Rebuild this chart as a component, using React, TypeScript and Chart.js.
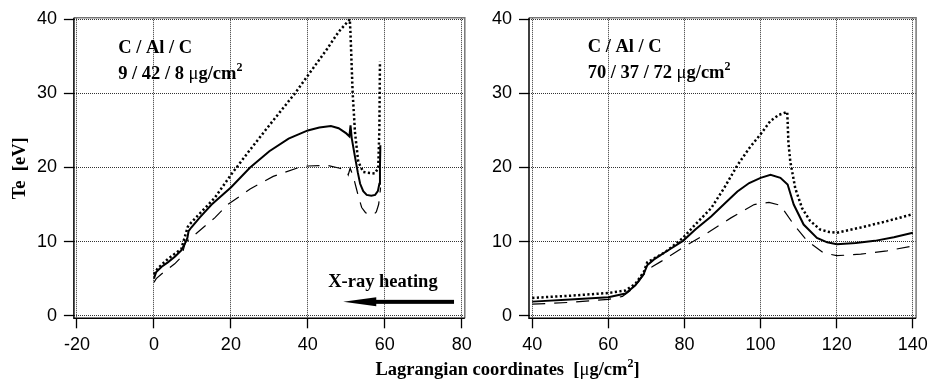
import React, { useEffect, useRef } from "react";
import { Chart, registerables } from "chart.js";

Chart.register(...registerables);

// ---------- tick labels ----------
const leftTicksX = [-20, 0, 20, 40, 60, 80];
const rightTicksX = [40, 60, 80, 100, 120, 140];
const ticksY = [0, 10, 20, 30, 40];

// ---------- left panel: C / Al / C 9 / 42 / 8 ----------
const leftSolidX = [0, 0.6, 2, 3.6, 5.5, 7.1, 8.2, 8.7, 9.0, 9.7, 12, 15, 20, 25, 30, 35, 40, 43, 46, 48, 50, 50.8, 51.1, 51.4, 52.2, 53.0, 53.6, 54.4, 55.3, 56.5, 57.5, 58.2, 58.6, 58.75, 58.85];
const leftSolidY = [5.0, 5.9, 6.6, 7.2, 8.0, 8.8, 9.9, 10.5, 11.4, 11.9, 13.3, 15.0, 17.3, 20.0, 22.2, 23.9, 25.0, 25.4, 25.6, 25.3, 24.6, 24.2, 25.7, 24.0, 21.6, 19.3, 17.8, 16.8, 16.3, 16.2, 16.3, 16.8, 17.8, 20.0, 23.0];

const leftDotX = [0, 1, 3.6, 7.1, 8.8, 9.4, 11.4, 15.8, 20, 25, 30, 36.65, 40, 45, 48, 50.9, 51.1, 51.65, 52.25, 53.1, 54.4, 55.5, 57.4, 58.3, 58.6, 58.75];
const leftDotY = [5.6, 6.4, 7.65, 9.0, 12.0, 12.4, 13.5, 15.9, 19.0, 22.4, 25.7, 30.0, 32.4, 36.0, 38.3, 40.0, 38.0, 30.1, 24.8, 20.8, 19.4, 19.3, 19.2, 19.9, 25.2, 34.3];

const leftDashX = [0, 0.6, 1.9, 5.4, 7.1, 8.2, 11, 15.8, 19.2, 25, 31, 37.1, 40, 45, 48.3, 50.0, 50.5, 51.0, 51.3, 52.0, 52.6, 53.2, 54.0, 55.0, 56.0, 57.0, 57.8, 58.4, 58.7, 58.9];
const leftDashY = [4.5, 5.0, 5.6, 7.0, 7.9, 9.9, 11.1, 13.2, 15.0, 17.1, 18.8, 19.9, 20.2, 20.3, 19.9, 19.6, 19.0, 19.9, 19.5, 18.4, 17.2, 16.0, 14.6, 13.9, 13.7, 13.6, 14.0, 15.0, 16.2, 17.3];

// ---------- right panel: C / Al / C 70 / 37 / 72 ----------
const rightSolidX = [40, 50, 60, 64.5, 67.1, 69.3, 70.2, 72, 75, 79.6, 83, 87, 90.5, 93.9, 97, 100, 102.6, 105.2, 107.1, 108.7, 111.3, 114.8, 117.5, 120, 125, 130, 135, 140];
const rightSolidY = [1.9, 2.2, 2.5, 3.0, 4.1, 5.65, 6.8, 7.6, 8.6, 10.1, 11.7, 13.4, 15.1, 16.76, 17.9, 18.6, 19.0, 18.6, 17.7, 15.0, 12.3, 10.5, 9.9, 9.65, 9.8, 10.1, 10.6, 11.2];

const rightDotX = [40, 50, 60, 64.5, 67.1, 69.3, 70.2, 75, 79.6, 83, 87, 90.5, 93.9, 97, 100, 102.6, 104.8, 107.0, 107.3, 107.8, 109.1, 110.9, 113.0, 115.6, 118, 120, 126.3, 133.2, 140];
const rightDotY = [2.4, 2.7, 3.07, 3.4, 4.3, 5.9, 7.2, 8.6, 10.5, 12.4, 14.5, 17.3, 20.3, 22.6, 24.5, 26.3, 27.1, 27.5, 23.4, 20.8, 17.2, 14.5, 12.8, 11.65, 11.3, 11.2, 11.9, 12.76, 13.7];

const rightDashX = [40, 50, 60, 63.7, 66, 68, 70, 71.5, 74.1, 79.6, 86.1, 92.2, 98.3, 102.2, 105.2, 108.7, 112.2, 116.5, 120, 126.3, 133.2, 140];
const rightDashY = [1.56, 1.8, 2.2, 2.6, 3.5, 4.6, 6.0, 6.6, 7.4, 9.2, 11.2, 13.2, 15.0, 15.3, 14.9, 12.3, 10.1, 8.5, 8.1, 8.3, 8.76, 9.4];

// ---------- fonts ----------
const SERIF = '"Liberation Serif", "Times New Roman", serif';
const SANS = '"Liberation Sans", Arial, Helvetica, sans-serif';
const BOLD = `bold 18.5px ${SERIF}`;
const REG = `18.5px ${SERIF}`;
const SUP = `bold 12px ${SERIF}`;

type Run = { text: string; font: string; dy?: number };

function pts(xs: number[], ys: number[]) {
  return xs.map((x, i) => ({ x, y: ys[i] }));
}

function makeDatasets(sx: number[], sy: number[], dx: number[], dy: number[], ax: number[], ay: number[]) {
  return [
    { label: "solid", data: pts(sx, sy), borderColor: "#000", borderWidth: 2, pointRadius: 0, tension: 0, fill: false },
    { label: "dotted", data: pts(dx, dy), borderColor: "#000", borderWidth: 2.5, borderDash: [2.2, 2.4], pointRadius: 0, tension: 0, fill: false },
    { label: "dashed", data: pts(ax, ay), borderColor: "#000", borderWidth: 1.2, borderDash: [13, 9], pointRadius: 0, tension: 0, fill: false },
  ];
}

function runsWidth(ctx: CanvasRenderingContext2D, runs: Run[]) {
  let w = 0;
  for (const r of runs) {
    ctx.font = r.font;
    w += ctx.measureText(r.text).width;
  }
  return w;
}

function drawRuns(ctx: CanvasRenderingContext2D, x: number, y: number, runs: Run[]) {
  let cx = x;
  ctx.textAlign = "left";
  ctx.textBaseline = "alphabetic";
  for (const r of runs) {
    ctx.font = r.font;
    ctx.fillText(r.text, cx, y + (r.dy || 0));
    cx += ctx.measureText(r.text).width;
  }
}

const framePlugin = {
  id: "frame",
  afterDatasetsDraw(chart: any) {
    const { ctx, chartArea: a } = chart;
    ctx.save();
    ctx.lineWidth = 1.5;
    ctx.strokeStyle = "#777";
    ctx.beginPath();
    ctx.moveTo(a.left, a.top);
    ctx.lineTo(a.right, a.top);
    ctx.lineTo(a.right, a.bottom);
    ctx.stroke();
    ctx.strokeStyle = "#000";
    ctx.beginPath();
    ctx.moveTo(a.left, a.top);
    ctx.lineTo(a.left, a.bottom);
    ctx.lineTo(a.right, a.bottom);
    ctx.stroke();
    ctx.restore();
  },
};

function annotationPlugin(opts: {
  titleX: number;
  titleY1: number;
  titleY2: number;
  line2: string;
  heating?: { textX: number; textY: number; tailX: number; tipX: number; arrowY: number };
  axisTitles?: boolean;
}) {
  return {
    id: "annot",
    afterDraw(chart: any) {
      const { ctx } = chart;
      const xs = chart.scales.x;
      const ys = chart.scales.y;
      ctx.save();
      ctx.fillStyle = "#000";
      const tx = xs.getPixelForValue(opts.titleX);
      drawRuns(ctx, tx, ys.getPixelForValue(opts.titleY1), [{ text: "C / Al / C", font: BOLD }]);
      drawRuns(ctx, tx, ys.getPixelForValue(opts.titleY2), [
        { text: opts.line2 + " ", font: BOLD },
        { text: "\u03BC", font: REG },
        { text: "g/cm", font: BOLD },
        { text: "2", font: SUP, dy: -8 },
      ]);
      if (opts.heating) {
        const h = opts.heating;
        drawRuns(ctx, xs.getPixelForValue(h.textX), ys.getPixelForValue(h.textY), [{ text: "X-ray heating", font: BOLD }]);
        const ay = ys.getPixelForValue(h.arrowY);
        const tail = xs.getPixelForValue(h.tailX);
        const tip = xs.getPixelForValue(h.tipX);
        const headLen = 33;
        ctx.fillRect(tip + headLen - 1, ay - 2, tail - (tip + headLen - 1), 4);
        ctx.beginPath();
        ctx.moveTo(tip, ay);
        ctx.lineTo(tip + headLen, ay - 4.5);
        ctx.lineTo(tip + headLen, ay + 4.5);
        ctx.closePath();
        ctx.fill();
      }
      if (opts.axisTitles) {
        // y axis title
        ctx.save();
        ctx.translate(25, 168.3);
        ctx.rotate(-Math.PI / 2);
        ctx.font = BOLD;
        ctx.textAlign = "center";
        ctx.textBaseline = "alphabetic";
        ctx.fillText("Te  [eV]", 0, 0);
        ctx.restore();
        // x axis title, shared by both panels
        const runs: Run[] = [
          { text: "Lagrangian coordinates  [", font: BOLD },
          { text: "\u03BC", font: REG },
          { text: "g/cm", font: BOLD },
          { text: "2", font: SUP, dy: -8 },
          { text: "]", font: BOLD },
        ];
        const w = runsWidth(ctx, runs);
        drawRuns(ctx, 507.5 - w / 2, 375, runs);
      }
      ctx.restore();
    },
  };
}

function makeConfig(p: {
  datasets: any[];
  xMin: number;
  xMax: number;
  xTicks: number[];
  yWidth: number;
  padRight: number;
  plugin: any;
}) {
  const tickFont = { family: SANS, size: 18 };
  return {
    type: "line" as const,
    data: { datasets: p.datasets },
    options: {
      responsive: false,
      animation: false as const,
      events: [],
      layout: { padding: { left: 0, top: 14.2, right: p.padRight, bottom: 0 } },
      plugins: { legend: { display: false }, tooltip: { enabled: false }, title: { display: false } },
      scales: {
        x: {
          type: "linear" as const,
          min: p.xMin,
          max: p.xMax,
          afterBuildTicks: (s: any) => {
            s.ticks = p.xTicks.map((v) => ({ value: v }));
          },
          afterFit: (s: any) => {
            s.height = 63.7;
          },
          grid: { color: "#333", lineWidth: 1, drawTicks: true, tickLength: 10, tickColor: "#000", tickWidth: 1.3 },
          border: { display: false, dash: [1, 1] },
          ticks: { color: "#000", font: tickFont, padding: 6, maxRotation: 0, autoSkip: false },
        },
        y: {
          type: "linear" as const,
          min: -0.35,
          max: 40.2,
          afterBuildTicks: (s: any) => {
            s.ticks = ticksY.map((v) => ({ value: v }));
          },
          afterFit: (s: any) => {
            s.width = p.yWidth;
          },
          grid: { color: "#333", lineWidth: 1, drawTicks: true, tickLength: 10, tickColor: "#000", tickWidth: 1.3 },
          border: { display: false, dash: [1, 1] },
          ticks: { color: "#000", font: tickFont, padding: 7 },
        },
      },
    },
    plugins: [framePlugin, p.plugin],
  };
}

export default function App() {
  const leftRef = useRef<HTMLCanvasElement>(null);
  const rightRef = useRef<HTMLCanvasElement>(null);

  useEffect(() => {
    const left = new Chart(
      leftRef.current as HTMLCanvasElement,
      makeConfig({
        datasets: makeDatasets(leftSolidX, leftSolidY, leftDotX, leftDotY, leftDashX, leftDashY),
        xMin: -20.8,
        xMax: 80.8,
        xTicks: leftTicksX,
        yWidth: 73.9,
        padRight: 934 - 464.8,
        plugin: annotationPlugin({
          titleX: -9.3,
          titleY1: 35.4,
          titleY2: 31.96,
          line2: "9 / 42 / 8",
          heating: { textX: 45.3, textY: 3.87, tailX: 78, tipX: 49.2, arrowY: 1.87 },
          axisTitles: true,
        }),
      }) as any
    );
    const right = new Chart(
      rightRef.current as HTMLCanvasElement,
      makeConfig({
        datasets: makeDatasets(rightSolidX, rightSolidY, rightDotX, rightDotY, rightDashX, rightDashY),
        xMin: 39.15,
        xMax: 140.85,
        xTicks: rightTicksX,
        yWidth: 62.0,
        padRight: 14.1,
        plugin: annotationPlugin({
          titleX: 54.57,
          titleY1: 35.56,
          titleY2: 32.1,
          line2: "70 / 37 / 72",
        }),
      }) as any
    );
    return () => {
      left.destroy();
      right.destroy();
    };
  }, []);

  return (
    <div style={{ position: "absolute", left: 0, top: 0, width: 934, height: 382, background: "#fff", overflow: "hidden" }}>
      <canvas ref={leftRef} width={934} height={382} style={{ position: "absolute", left: 0, top: 0, width: 934, height: 382 }} />
      <canvas ref={rightRef} width={467} height={382} style={{ position: "absolute", left: 467, top: 0, width: 467, height: 382 }} />
    </div>
  );
}
